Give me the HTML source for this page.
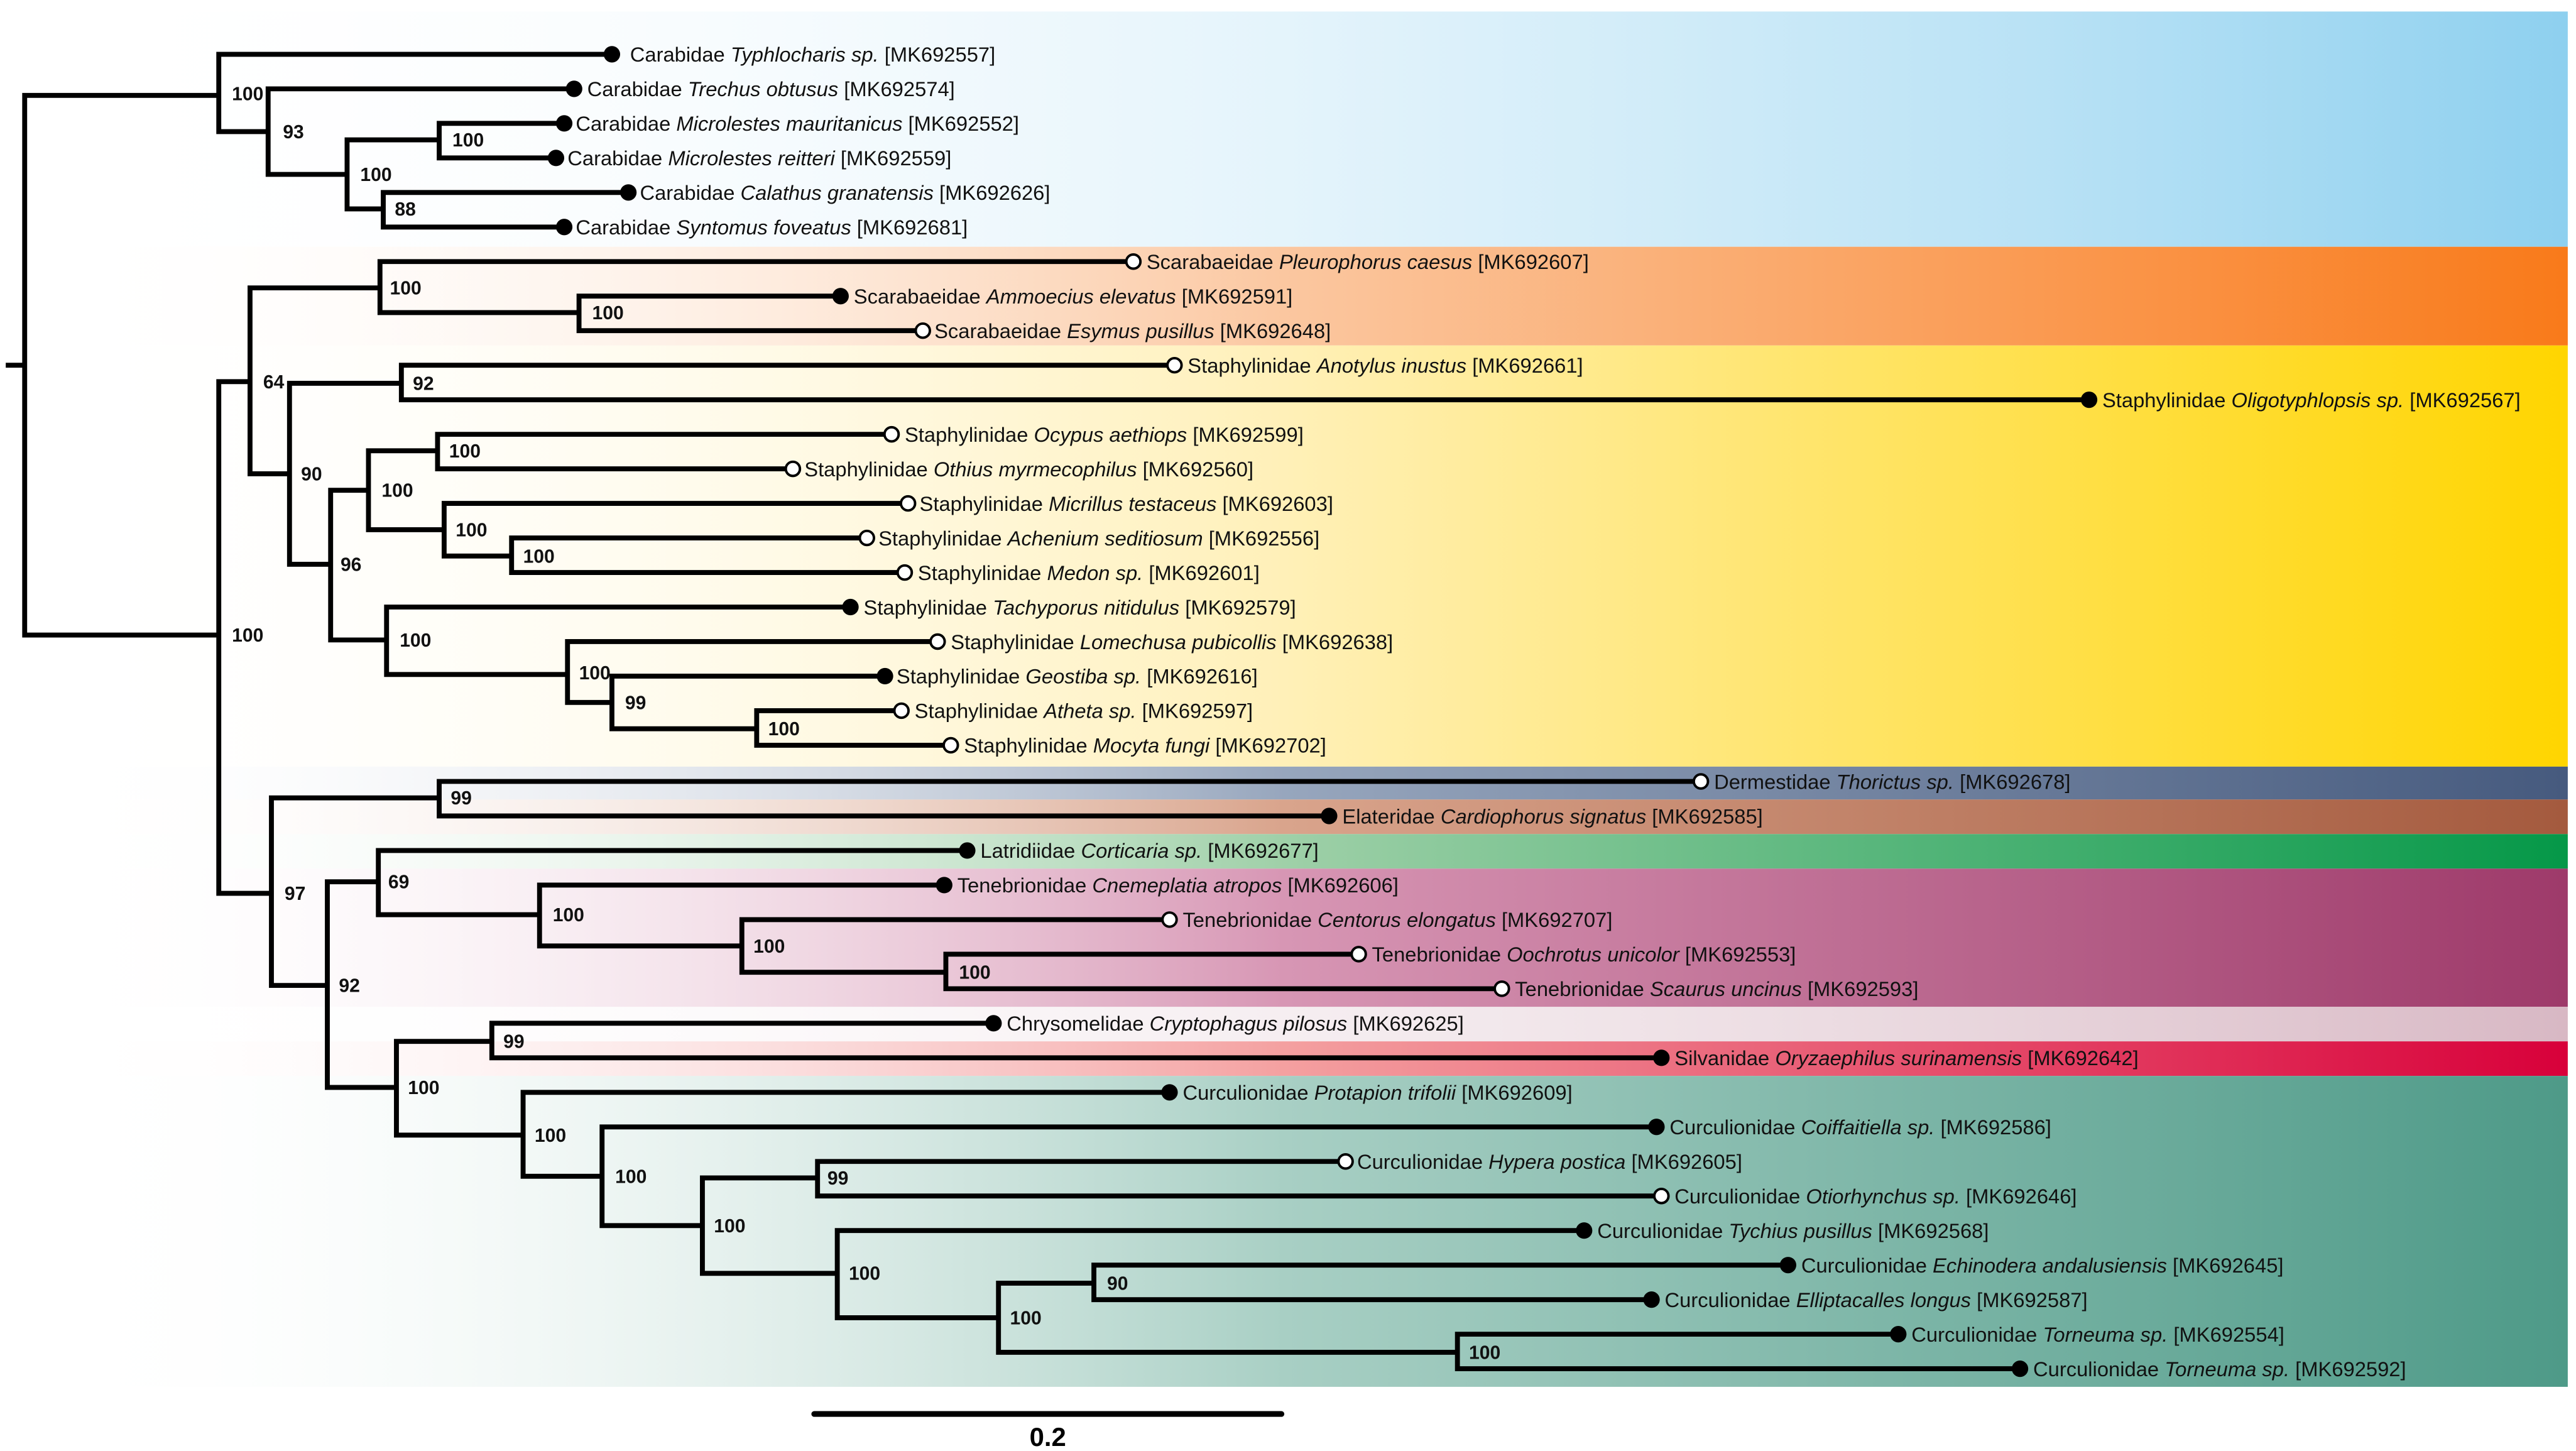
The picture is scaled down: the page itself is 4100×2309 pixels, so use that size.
<!DOCTYPE html>
<html><head><meta charset="utf-8"><style>
html,body{margin:0;padding:0;background:#fff;}
svg{display:block;}
text{font-family:"Liberation Sans Narrow","Liberation Sans",sans-serif;}
.t{font-size:12.5px;fill:#111;}
.n{font-size:11.5px;font-weight:bold;fill:#111;}
</style></head><body>
<svg width="4100" height="2309" viewBox="0 0 1566 882" preserveAspectRatio="none" xmlns="http://www.w3.org/2000/svg">
<defs>
<linearGradient id="gB" x1="0" x2="1"><stop offset="0.02" stop-color="#fff" stop-opacity="0"/><stop offset="1" stop-color="#8ed0ef"/></linearGradient>
<linearGradient id="gO" x1="0" x2="1"><stop offset="0.02" stop-color="#fff" stop-opacity="0"/><stop offset="0.5" stop-color="#fbc7a0"/><stop offset="1" stop-color="#f97a1a"/></linearGradient>
<linearGradient id="gY" x1="0" x2="1"><stop offset="0.02" stop-color="#fff" stop-opacity="0"/><stop offset="0.5" stop-color="#fff0b8"/><stop offset="1" stop-color="#ffd500"/></linearGradient>
<linearGradient id="gD" x1="0" x2="1"><stop offset="0.02" stop-color="#fff" stop-opacity="0"/><stop offset="0.5" stop-color="#97a6bd"/><stop offset="1" stop-color="#465a7e"/></linearGradient>
<linearGradient id="gE" x1="0" x2="1"><stop offset="0.02" stop-color="#fff" stop-opacity="0"/><stop offset="0.5" stop-color="#d9a48c"/><stop offset="1" stop-color="#a45a3e"/></linearGradient>
<linearGradient id="gG" x1="0" x2="1"><stop offset="0.02" stop-color="#fff" stop-opacity="0"/><stop offset="0.5" stop-color="#9fd0a8"/><stop offset="1" stop-color="#059848"/></linearGradient>
<linearGradient id="gP" x1="0" x2="1"><stop offset="0.02" stop-color="#fff" stop-opacity="0"/><stop offset="0.5" stop-color="#d796b4"/><stop offset="1" stop-color="#9e3a6a"/></linearGradient>
<linearGradient id="gK" x1="0" x2="1"><stop offset="0.02" stop-color="#fff" stop-opacity="0"/><stop offset="1" stop-color="#d8b8c4"/></linearGradient>
<linearGradient id="gR" x1="0" x2="1"><stop offset="0.02" stop-color="#fff" stop-opacity="0"/><stop offset="0.5" stop-color="#f4a0a0"/><stop offset="1" stop-color="#d8003a"/></linearGradient>
<linearGradient id="gT" x1="0" x2="1"><stop offset="0.02" stop-color="#fff" stop-opacity="0"/><stop offset="0.5" stop-color="#a8cfc4"/><stop offset="1" stop-color="#4e9a88"/></linearGradient>
</defs>
<rect x="0" y="7" width="1561" height="143" fill="url(#gB)"/>
<rect x="0" y="150" width="1561" height="60" fill="url(#gO)"/>
<rect x="0" y="210" width="1561" height="256" fill="url(#gY)"/>
<rect x="0" y="466" width="1561" height="20" fill="url(#gD)"/>
<rect x="0" y="486" width="1561" height="21" fill="url(#gE)"/>
<rect x="0" y="507" width="1561" height="21" fill="url(#gG)"/>
<rect x="0" y="528" width="1561" height="84" fill="url(#gP)"/>
<rect x="0" y="612" width="1561" height="21" fill="url(#gK)"/>
<rect x="0" y="633" width="1561" height="21" fill="url(#gR)"/>
<rect x="0" y="654" width="1561" height="189" fill="url(#gT)"/>

<path fill="none" stroke="#000" stroke-width="3" stroke-linecap="square" d="
M5 222H15 M15 58V386 M15 58H133 M15 386H133
M133 33V80 M133 33H372 M133 80H163
M163 54V106 M163 54H349 M163 106H211
M211 85V127 M211 85H267 M211 127H233
M267 75V96 M267 75H343 M267 96H338
M233 117V138 M233 117H382 M233 138H343
M133 232V543 M133 232H152 M133 543H165
M152 175V288 M152 175H231 M152 288H176
M231 159V190 M231 159H689 M231 190H352
M352 180V201 M352 180H511 M352 201H561
M176 233V343 M176 233H244 M176 343H201
M244 222V243 M244 222H714 M244 243H1270
M201 298V389 M201 298H224 M201 389H235
M224 274V322 M224 274H266 M224 322H270
M266 264V285 M266 264H542 M266 285H482
M270 306V338 M270 306H552 M270 338H311
M311 327V348 M311 327H527 M311 348H550
M235 369V410 M235 369H517 M235 410H345
M345 390V427 M345 390H570 M345 427H372
M372 411V443 M372 411H538 M372 443H460
M460 432V453 M460 432H548 M460 453H578
M165 485V599 M165 485H267 M165 599H199
M267 475V496 M267 475H1034 M267 496H808
M199 536V661 M199 536H230 M199 661H241
M230 517V556 M230 517H588 M230 556H328
M328 538V575 M328 538H574 M328 575H451
M451 559V591 M451 559H711 M451 591H575
M575 580V601 M575 580H826 M575 601H913
M241 633V690 M241 633H299 M241 690H318
M299 622V643 M299 622H604 M299 643H1010
M318 664V715 M318 664H711 M318 715H366
M366 685V745 M366 685H1007 M366 745H427
M427 716V774 M427 716H497 M427 774H509
M497 706V727 M497 706H818 M497 727H1010
M509 748V801 M509 748H963 M509 801H607
M607 780V822 M607 780H665 M607 822H886
M665 769V790 M665 769H1087 M665 790H1004
M886 811V832 M886 811H1154 M886 832H1228
"/>
<line x1="495" y1="859.5" x2="779" y2="859.5" stroke="#000" stroke-width="3.5" stroke-linecap="round"/>
<text x="637" y="879" text-anchor="middle" style="font-size:16px;font-weight:bold;">0.2</text>

<g fill="#000">
<circle cx="372" cy="33" r="5"/><circle cx="349" cy="54" r="5"/><circle cx="343" cy="75" r="5"/><circle cx="338" cy="96" r="5"/><circle cx="382" cy="117" r="5"/><circle cx="343" cy="138" r="5"/>
<circle cx="511" cy="180" r="5"/><circle cx="1270" cy="243" r="5"/><circle cx="517" cy="369" r="5"/><circle cx="538" cy="411" r="5"/>
<circle cx="808" cy="496" r="5"/><circle cx="588" cy="517" r="5"/><circle cx="574" cy="538" r="5"/><circle cx="604" cy="622" r="5"/><circle cx="1010" cy="643" r="5"/>
<circle cx="711" cy="664" r="5"/><circle cx="1007" cy="685" r="5"/><circle cx="963" cy="748" r="5"/><circle cx="1087" cy="769" r="5"/><circle cx="1004" cy="790" r="5"/><circle cx="1154" cy="811" r="5"/><circle cx="1228" cy="832" r="5"/>
</g>
<g fill="#fff" stroke="#000" stroke-width="1.5">
<circle cx="689" cy="159" r="4.3"/><circle cx="561" cy="201" r="4.3"/><circle cx="714" cy="222" r="4.3"/><circle cx="542" cy="264" r="4.3"/><circle cx="482" cy="285" r="4.3"/><circle cx="552" cy="306" r="4.3"/><circle cx="527" cy="327" r="4.3"/><circle cx="550" cy="348" r="4.3"/><circle cx="570" cy="390" r="4.3"/><circle cx="548" cy="432" r="4.3"/><circle cx="578" cy="453" r="4.3"/>
<circle cx="1034" cy="475" r="4.3"/><circle cx="711" cy="559" r="4.3"/><circle cx="826" cy="580" r="4.3"/><circle cx="913" cy="601" r="4.3"/><circle cx="818" cy="706" r="4.3"/><circle cx="1010" cy="727" r="4.3"/>
</g>

<g class="t">
<text x="383" y="37.5">Carabidae <tspan font-style="italic">Typhlocharis sp.</tspan> [MK692557]</text>
<text x="357" y="58.5">Carabidae <tspan font-style="italic">Trechus obtusus</tspan> [MK692574]</text>
<text x="350" y="79.5">Carabidae <tspan font-style="italic">Microlestes mauritanicus</tspan> [MK692552]</text>
<text x="345" y="100.5">Carabidae <tspan font-style="italic">Microlestes reitteri</tspan> [MK692559]</text>
<text x="389" y="121.5">Carabidae <tspan font-style="italic">Calathus granatensis</tspan> [MK692626]</text>
<text x="350" y="142.5">Carabidae <tspan font-style="italic">Syntomus foveatus</tspan> [MK692681]</text>
<text x="697" y="163.5">Scarabaeidae <tspan font-style="italic">Pleurophorus caesus</tspan> [MK692607]</text>
<text x="519" y="184.5">Scarabaeidae <tspan font-style="italic">Ammoecius elevatus</tspan> [MK692591]</text>
<text x="568" y="205.5">Scarabaeidae <tspan font-style="italic">Esymus pusillus</tspan> [MK692648]</text>
<text x="722" y="226.5">Staphylinidae <tspan font-style="italic">Anotylus inustus</tspan> [MK692661]</text>
<text x="1278" y="247.5">Staphylinidae <tspan font-style="italic">Oligotyphlopsis sp.</tspan> [MK692567]</text>
<text x="550" y="268.5">Staphylinidae <tspan font-style="italic">Ocypus aethiops</tspan> [MK692599]</text>
<text x="489" y="289.5">Staphylinidae <tspan font-style="italic">Othius myrmecophilus</tspan> [MK692560]</text>
<text x="559" y="310.5">Staphylinidae <tspan font-style="italic">Micrillus testaceus</tspan> [MK692603]</text>
<text x="534" y="331.5">Staphylinidae <tspan font-style="italic">Achenium seditiosum</tspan> [MK692556]</text>
<text x="558" y="352.5">Staphylinidae <tspan font-style="italic">Medon sp.</tspan> [MK692601]</text>
<text x="525" y="373.5">Staphylinidae <tspan font-style="italic">Tachyporus nitidulus</tspan> [MK692579]</text>
<text x="578" y="394.5">Staphylinidae <tspan font-style="italic">Lomechusa pubicollis</tspan> [MK692638]</text>
<text x="545" y="415.5">Staphylinidae <tspan font-style="italic">Geostiba sp.</tspan> [MK692616]</text>
<text x="556" y="436.5">Staphylinidae <tspan font-style="italic">Atheta sp.</tspan> [MK692597]</text>
<text x="586" y="457.5">Staphylinidae <tspan font-style="italic">Mocyta fungi</tspan> [MK692702]</text>
<text x="1042" y="479.5">Dermestidae <tspan font-style="italic">Thorictus sp.</tspan> [MK692678]</text>
<text x="816" y="500.5">Elateridae <tspan font-style="italic">Cardiophorus signatus</tspan> [MK692585]</text>
<text x="596" y="521.5">Latridiidae <tspan font-style="italic">Corticaria sp.</tspan> [MK692677]</text>
<text x="582" y="542.5">Tenebrionidae <tspan font-style="italic">Cnemeplatia atropos</tspan> [MK692606]</text>
<text x="719" y="563.5">Tenebrionidae <tspan font-style="italic">Centorus elongatus</tspan> [MK692707]</text>
<text x="834" y="584.5">Tenebrionidae <tspan font-style="italic">Oochrotus unicolor</tspan> [MK692553]</text>
<text x="921" y="605.5">Tenebrionidae <tspan font-style="italic">Scaurus uncinus</tspan> [MK692593]</text>
<text x="612" y="626.5">Chrysomelidae <tspan font-style="italic">Cryptophagus pilosus</tspan> [MK692625]</text>
<text x="1018" y="647.5">Silvanidae <tspan font-style="italic">Oryzaephilus surinamensis</tspan> [MK692642]</text>
<text x="719" y="668.5">Curculionidae <tspan font-style="italic">Protapion trifolii</tspan> [MK692609]</text>
<text x="1015" y="689.5">Curculionidae <tspan font-style="italic">Coiffaitiella sp.</tspan> [MK692586]</text>
<text x="825" y="710.5">Curculionidae <tspan font-style="italic">Hypera postica</tspan> [MK692605]</text>
<text x="1018" y="731.5">Curculionidae <tspan font-style="italic">Otiorhynchus sp.</tspan> [MK692646]</text>
<text x="971" y="752.5">Curculionidae <tspan font-style="italic">Tychius pusillus</tspan> [MK692568]</text>
<text x="1095" y="773.5">Curculionidae <tspan font-style="italic">Echinodera andalusiensis</tspan> [MK692645]</text>
<text x="1012" y="794.5">Curculionidae <tspan font-style="italic">Elliptacalles longus</tspan> [MK692587]</text>
<text x="1162" y="815.5">Curculionidae <tspan font-style="italic">Torneuma sp.</tspan> [MK692554]</text>
<text x="1236" y="836.5">Curculionidae <tspan font-style="italic">Torneuma sp.</tspan> [MK692592]</text>
</g>

<g class="n">
<text x="141" y="61">100</text><text x="172" y="84">93</text><text x="219" y="110">100</text><text x="275" y="89">100</text><text x="240" y="131">88</text>
<text x="141" y="390">100</text><text x="160" y="236">64</text><text x="237" y="179">100</text><text x="360" y="194">100</text>
<text x="183" y="292">90</text><text x="251" y="237">92</text><text x="207" y="347">96</text><text x="232" y="302">100</text>
<text x="273" y="278">100</text><text x="277" y="326">100</text><text x="318" y="342">100</text><text x="243" y="393">100</text>
<text x="352" y="413">100</text><text x="380" y="431">99</text><text x="467" y="447">100</text>
<text x="173" y="547">97</text><text x="274" y="489">99</text><text x="206" y="603">92</text><text x="236" y="540">69</text>
<text x="336" y="560">100</text><text x="458" y="579">100</text><text x="583" y="595">100</text>
<text x="248" y="665">100</text><text x="306" y="637">99</text><text x="325" y="694">100</text><text x="374" y="719">100</text>
<text x="434" y="749">100</text><text x="503" y="720">99</text><text x="516" y="778">100</text><text x="614" y="805">100</text>
<text x="673" y="784">90</text><text x="893" y="826">100</text>
</g>
</svg>
</body></html>
